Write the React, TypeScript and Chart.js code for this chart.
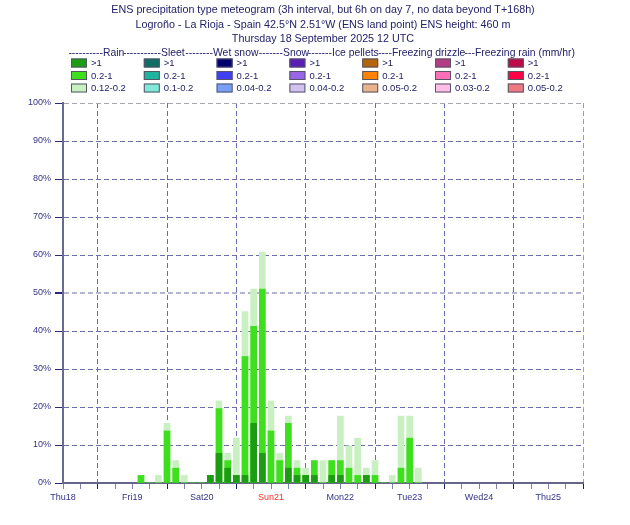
import React, { useEffect, useRef } from 'react';
import { Chart, registerables } from 'chart.js';

Chart.register(...registerables);

const TITLE_LINES = [
  'ENS precipitation type meteogram (3h interval, but 6h on day 7, no data beyond T+168h)',
  'Logroño - La Rioja - Spain 42.5°N 2.51°W (ENS land point) ENS height: 460 m',
  'Thursday 18 September 2025 12 UTC',
];

// hours after Thursday 18 September 2025 12 UTC
const hours = [27, 30, 33, 36, 39, 42, 45, 48, 51, 54, 57, 60, 63, 66, 69, 72, 75, 78, 81, 84, 87, 90, 93, 96, 99, 102, 105, 108, 111, 114, 117, 120, 123];
// probability (%) of rain above thresholds
const rainAbove012 = [2.0, 0, 2.0, 15.7, 5.9, 2.0, 0, 0, 2.0, 21.6, 7.8, 11.8, 45.1, 51.0, 60.8, 21.6, 7.8, 17.6, 5.9, 3.9, 5.9, 5.9, 5.9, 17.6, 9.8, 11.8, 3.9, 5.9, 0, 2.0, 17.6, 17.6, 3.9];
const rainAbove02 = [2.0, 0, 0, 13.7, 3.9, 0, 0, 0, 2.0, 19.6, 5.9, 2.0, 33.3, 41.2, 51.0, 13.7, 5.9, 15.7, 3.9, 2.0, 5.9, 0, 5.9, 5.9, 3.9, 2.0, 2.0, 2.0, 0, 0, 3.9, 11.8, 0];
const rainAbove1 = [0, 0, 0, 0, 0, 0, 0, 0, 2.0, 7.8, 3.9, 2.0, 2.0, 15.7, 7.8, 0, 0, 3.9, 2.0, 2.0, 2.0, 0, 2.0, 2.0, 0, 0, 2.0, 0, 0, 0, 0, 0, 0];

const dayLabels = ['Thu18', 'Fri19', 'Sat20', 'Sun21', 'Mon22', 'Tue23', 'Wed24', 'Thu25'];

const legendGroups = ['Rain', 'Sleet', 'Wet snow', 'Snow', 'Ice pellets', 'Freezing drizzle', 'Freezing rain (mm/hr)'];
const legendRanges = [
  ['>1', '0.2-1', '0.12-0.2'],
  ['>1', '0.2-1', '0.1-0.2'],
  ['>1', '0.2-1', '0.04-0.2'],
  ['>1', '0.2-1', '0.04-0.2'],
  ['>1', '0.2-1', '0.05-0.2'],
  ['>1', '0.2-1', '0.03-0.2'],
  ['>1', '0.2-1', '0.05-0.2'],
];
const legendColors = [
  ['#1b9c12', '#3ee01e', '#c8f0c0'],
  ['#0f6e66', '#1eb4a0', '#82e8dc'],
  ['#00006e', '#4040f0', '#78a0f8'],
  ['#5a1eb4', '#9a64e6', '#d2c2f0'],
  ['#b4640a', '#ff8200', '#e8b48c'],
  ['#b43c82', '#ff6eb8', '#ffbee6'],
  ['#be0a46', '#ff0046', '#f07882'],
];

const FONT = '"Liberation Sans", Arial, Helvetica, sans-serif';
const TEXT = '#22226a';

const headerPlugin = {
  id: 'header',
  beforeDraw(chart: any) {
    const ctx = chart.ctx;
    ctx.save();
    ctx.fillStyle = '#ffffff';
    ctx.fillRect(0, 0, chart.width, chart.height);
    ctx.restore();
  },
  afterDraw(chart: any) {
    const ctx = chart.ctx;
    ctx.save();
    ctx.fillStyle = TEXT;
    ctx.font = `10.75px ${FONT}`;
    ctx.textAlign = 'center';
    ctx.textBaseline = 'alphabetic';
    const baselines = [13.2, 27.6, 41.8];
    TITLE_LINES.forEach((t, i) => ctx.fillText(t, 323, baselines[i]));

    // header line with dashes
    ctx.font = `10.4px ${FONT}`;
    const groupX = [103, 161, 213, 283, 332, 392, 475];
    const startX = 67;
    ctx.textAlign = 'left';
    const dashW = ctx.measureText('-').width;
    let prevEnd = startX;
    legendGroups.forEach((g, i) => {
      const gap = groupX[i] - prevEnd;
      const n = Math.max(1, Math.round(gap / dashW));
      const dashes = '-'.repeat(n);
      ctx.fillText(dashes, groupX[i] - n * dashW, 56.3);
      ctx.fillText(g, groupX[i], 56.3);
      prevEnd = groupX[i] + ctx.measureText(g).width;
    });

    // swatches
    ctx.font = `9.5px ${FONT}`;
    ctx.textBaseline = 'middle';
    legendGroups.forEach((g, i) => {
      const x = 71 + 72.8 * i;
      for (let r = 0; r < 3; r++) {
        const y = 58.5 + 12.5 * r;
        ctx.fillStyle = legendColors[i][r];
        ctx.fillRect(x, y, 16, 9);
        ctx.strokeStyle = '#555566';
        ctx.lineWidth = 1;
        ctx.strokeRect(x + 0.5, y + 0.5, 15, 8);
        ctx.fillStyle = TEXT;
        ctx.fillText(legendRanges[i][r], x + 20, y + 5);
      }
    });
    ctx.restore();
  },
};

export default function App() {
  const ref = useRef<HTMLCanvasElement | null>(null);
  useEffect(() => {
    if (!ref.current) return;
    const mk = (vals: number[]) => hours.map((h, i) => ({ x: h, y: vals[i] }));
    const chart = new Chart(ref.current, {
      type: 'bar',
      data: {
        datasets: [
          { label: '>1', data: mk(rainAbove1), backgroundColor: '#1b9c12', barThickness: 6, grouped: false },
          { label: '0.2-1', data: mk(rainAbove02), backgroundColor: '#3ee01e', barThickness: 6, grouped: false },
          { label: '0.12-0.2', data: mk(rainAbove012), backgroundColor: '#c8f0c0', barThickness: 6, grouped: false },
        ] as any,
      },
      options: {
        animation: false,
        responsive: false,
        maintainAspectRatio: false,
        layout: { padding: { top: 103, right: 47, bottom: 12, left: 0 } },
        plugins: { legend: { display: false }, tooltip: { enabled: false }, title: { display: false } },
        scales: {
          x: {
            type: 'linear',
            min: 0,
            max: 180,
            offset: false,
            ticks: {
              stepSize: 6,
              autoSkip: false,
              maxRotation: 0,
              minRotation: 0,
              padding: 3,
              font: { family: FONT, size: 9 },
              color: (c: any) => (c.tick && c.tick.value === 72 ? '#ff2a2a' : '#33338a'),
              callback: (v: any) => {
                const n = Number(v);
                return n % 24 === 0 && n < 180 ? dayLabels[n / 24] : '';
              },
            },
            grid: {
              offset: false,
              drawOnChartArea: true,
              drawTicks: true,
              tickLength: 6,
              lineWidth: 1,
              color: (c: any) => {
                const v = c.tick ? c.tick.value : -1;
                if (v === 180) return '#a89a9e';
                if ((v - 12) % 24 === 0) return '#6c6cae';
                return 'rgba(0,0,0,0)';
              },
              tickColor: (c: any) => {
                const v = c.tick ? c.tick.value : -1;
                return (v - 12) % 24 === 0 ? '#1c1c6a' : '#8080aa';
              },
            },
            border: { display: true, color: '#666688', width: 2, dash: [5, 3] },
            afterFit: (s: any) => { s.height = 30; },
          } as any,
          y: {
            type: 'linear',
            min: 0,
            max: 100,
            ticks: {
              stepSize: 10,
              padding: 4,
              font: { family: FONT, size: 9 },
              color: '#33338a',
              callback: (v: any) => `${v}%`,
            },
            grid: {
              drawTicks: true,
              tickLength: 8,
              color: (c: any) => {
                const v = c.tick ? c.tick.value : -1;
                if (v === 0) return 'rgba(0,0,0,0)';
                if (v === 100) return '#aaa4b6';
                if (v === 50) return '#b4b4d6';
                return '#6c6cae';
              },
              lineWidth: (c: any) => (c.tick && c.tick.value === 50 ? 2 : 1),
              tickColor: '#2a2a78',
            },
            border: { display: true, color: '#6a6a90', width: 2, dash: [5, 3] },
            afterFit: (s: any) => { s.width = 63; },
          } as any,
        },
      },
      plugins: [headerPlugin],
    });
    return () => chart.destroy();
  }, []);

  return (
    <div style={{ position: 'fixed', left: 0, top: 0, width: 630, height: 525, background: '#fff' }}>
      <canvas ref={ref} width={630} height={525} style={{ width: 630, height: 525, display: 'block' }} />
    </div>
  );
}
